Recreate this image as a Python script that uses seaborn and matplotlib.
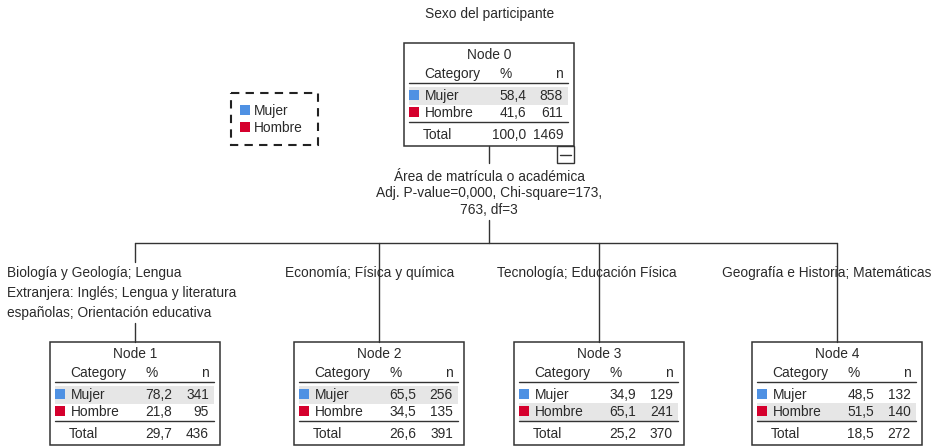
import pandas as pd
import seaborn as sns
import matplotlib.pyplot as plt
from matplotlib.patches import Rectangle

title = "Sexo del participante"
categories = ["Mujer", "Hombre"]
colors = ["#4f91e3", "#d5002d"]

node_ids = [0, 1, 2, 3, 4]
mujer_pct = [58.4, 78.2, 65.5, 34.9, 48.5]
mujer_n = [858, 341, 256, 129, 132]
hombre_pct = [41.6, 21.8, 34.5, 65.1, 51.5]
hombre_n = [611, 95, 135, 241, 140]
total_pct = [100.0, 29.7, 26.6, 25.2, 18.5]
total_n = [1469, 436, 391, 370, 272]

split_text = ["Área de matrícula o académica",
              "Adj. P-value=0,000, Chi-square=173,",
              "763, df=3"]
child_labels = [["Biología y Geología; Lengua",
                 "Extranjera: Inglés; Lengua y literatura",
                 "españolas; Orientación educativa"],
                ["Economía; Física y química"],
                ["Tecnología; Educación Física"],
                ["Geografía e Historia; Matemáticas"]]

# ---- layout (pixels) ----
W, H = 936, 446
box_w, box_h = 170, 103
node_left = [404, 50, 294, 514, 752]
node_top = [43, 342, 342, 342, 342]
label_x = [7, 285, 497, 722]
bar_y = 243

sns.set_theme(style="white")
plt.rcParams['font.family'] = ['Liberation Sans', 'DejaVu Sans']
FS = 9.9
INK = "#2a2a2a"
EDGE = "#333333"

fig = plt.figure(figsize=(W / 100, H / 100), dpi=100)
ax = fig.add_axes([0, 0, 1, 1])
ax.set_xlim(0, W)
ax.set_ylim(H, 0)
ax.axis('off')

ax.text(490, 14, title, ha='center', va='center', fontsize=FS, color=INK)

rows = []
for i, nid in enumerate(node_ids):
    L, T = node_left[i], node_top[i]
    cx = L + box_w / 2
    ax.add_patch(Rectangle((L, T), box_w, box_h, fill=False, ec=EDGE, lw=1.1, zorder=3))
    ax.text(cx, T + 12, f"Node {nid}", ha='center', va='center', fontsize=FS, color=INK)
    ax.text(L + 48, T + 31, "Category", ha='center', va='center', fontsize=FS, color=INK)
    ax.text(L + 102, T + 31, "%", ha='center', va='center', fontsize=FS, color=INK)
    ax.text(L + 159, T + 31, "n", ha='right', va='center', fontsize=FS, color=INK)
    ax.plot([L + 5, L + 164], [T + 40, T + 40], color=EDGE, lw=1)
    pcts = [mujer_pct[i], hombre_pct[i]]
    ns = [mujer_n[i], hombre_n[i]]
    top_row = pcts.index(max(pcts))
    for r, (cat, p, n) in enumerate(zip(categories, pcts, ns)):
        ry = T + 53 + 17 * r
        if r == top_row:
            ax.add_patch(Rectangle((L + 5, ry - 9), 159, 18, color="#e6e6e6", lw=0, zorder=0))
        ax.text(L + 21, ry, cat, ha='left', va='center', fontsize=FS, color=INK)
        ax.text(L + 122, ry, f"{p:.1f}".replace('.', ','), ha='right', va='center', fontsize=FS, color=INK)
        ax.text(L + 159, ry, str(n), ha='right', va='center', fontsize=FS, color=INK)
        rows.append({"x": L + 10, "y": ry - 1, "cat": cat})
    ax.plot([L + 5, L + 164], [T + 79, T + 79], color=EDGE, lw=1)
    ax.text(L + 19, T + 92, "Total", ha='left', va='center', fontsize=FS, color=INK)
    ax.text(L + 122, T + 92, f"{total_pct[i]:.1f}".replace('.', ','), ha='right', va='center', fontsize=FS, color=INK)
    ax.text(L + 159, T + 92, str(total_n[i]), ha='right', va='center', fontsize=FS, color=INK)

# collapse toggle under root node
ax.add_patch(Rectangle((557, 146), 17, 17, fill=False, ec=EDGE, lw=1))
ax.plot([560, 571], [155, 155], color=EDGE, lw=1)

# legend
ax.add_patch(Rectangle((231, 93), 87, 52, fill=False, ec="#222222", lw=1.5, ls=(0, (4, 3))))
for r, cat in enumerate(categories):
    rows.append({"x": 245, "y": 110 + 17 * r, "cat": cat})
    ax.text(254, 111 + 17 * r, cat, ha='left', va='center', fontsize=FS, color=INK)

sq = pd.DataFrame(rows)
sns.scatterplot(data=sq, x="x", y="y", hue="cat", palette=dict(zip(categories, colors)),
                marker='s', s=42, linewidth=0, legend=False, ax=ax, zorder=4)

# connectors and split text
root_cx = node_left[0] + box_w / 2
ax.plot([root_cx, root_cx], [146, 163], color=EDGE, lw=1)
for k, line in enumerate(split_text):
    ax.text(root_cx, 177 + 16.5 * k, line, ha='center', va='center', fontsize=FS, color=INK)
ax.plot([root_cx, root_cx], [220, bar_y], color=EDGE, lw=1)
child_cx = [node_left[i] + box_w / 2 for i in range(1, 5)]
ax.plot([child_cx[0], child_cx[-1]], [bar_y, bar_y], color=EDGE, lw=1)
for j, cx in enumerate(child_cx):
    if len(child_labels[j]) > 1:
        # multi-line label interrupts the connector
        ax.plot([cx, cx], [bar_y, 262], color=EDGE, lw=1)
        ax.plot([cx, cx], [323, 342], color=EDGE, lw=1)
    else:
        ax.plot([cx, cx], [bar_y, 342], color=EDGE, lw=1, zorder=1)
    for k, line in enumerate(child_labels[j]):
        ax.text(label_x[j], 273 + 20 * k, line, ha='left', va='center', fontsize=FS, color=INK, zorder=2)

ax.set_xlim(0, W)
ax.set_ylim(H, 0)
fig.savefig("out.png", dpi=100)
